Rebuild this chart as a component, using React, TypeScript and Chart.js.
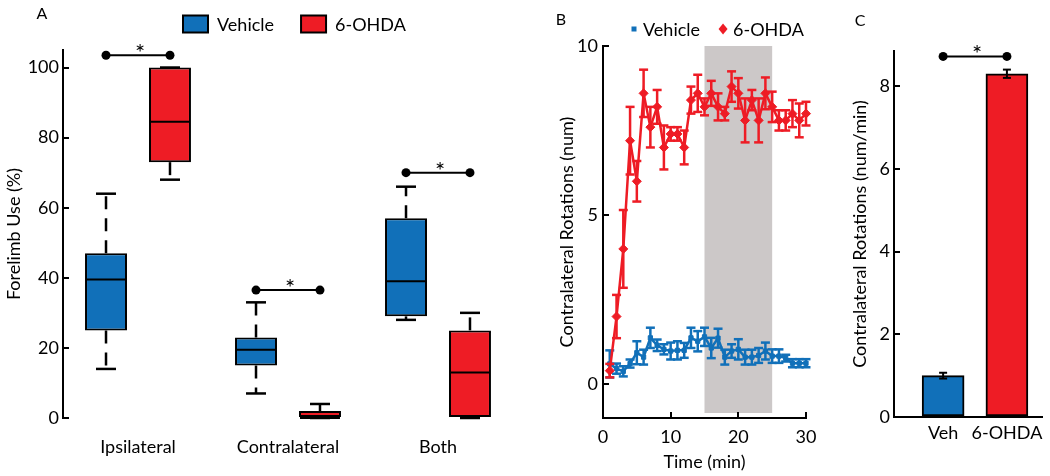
import React, { useEffect, useRef } from "react";
import { Chart, registerables } from "chart.js";

Chart.register(...registerables);

const FONT_FAMILY = "Lato, 'Noto Sans', sans-serif";
const BLUE = "#1170b9";
const RED = "#ee1c25";
const BLACK = "#000000";
const SHADE = "#ccc8c8";

// ---------- Panel A : forelimb use box plots ----------
const boxCategories = ["Ipsilateral", "Contralateral", "Both"];
const seriesNames = ["Vehicle", "6-OHDA"];
const vehicleMin = [14, 7, 28];
const vehicleQ1 = [25, 15, 29];
const vehicleMedian = [39.5, 19.5, 39];
const vehicleQ3 = [47, 23, 57];
const vehicleMax = [64, 33, 66];
const ohdaMin = [68, 0, 0];
const ohdaQ1 = [73, 0, 0];
const ohdaMedian = [84.5, 0, 13];
const ohdaQ3 = [100, 2, 25];
const ohdaMax = [100, 4, 30];
const sigLevelA = [103.5, 36.5, 70];
const yTicksA = [0, 20, 40, 60, 80, 100];

// ---------- Panel B : rotations over time ----------
const timeMin = [1, 2, 3, 4, 5, 6, 7, 8, 9, 10, 11, 12, 13, 14, 15, 16, 17, 18, 19, 20, 21, 22, 23, 24, 25, 26, 27, 28, 29, 30];
const vehicleRot = [0.6, 0.46, 0.38, 0.61, 0.93, 0.8, 1.37, 1.15, 1.03, 0.98, 1.0, 1.0, 1.37, 1.27, 1.4, 1.07, 1.36, 0.8, 0.98, 1.03, 0.8, 0.8, 0.85, 0.98, 0.83, 0.83, 0.77, 0.62, 0.62, 0.62];
const vehicleRotErr = [0.4, 0.15, 0.15, 0.12, 0.34, 0.22, 0.3, 0.17, 0.15, 0.25, 0.27, 0.22, 0.3, 0.3, 0.27, 0.3, 0.28, 0.22, 0.2, 0.3, 0.22, 0.22, 0.22, 0.25, 0.2, 0.2, 0.1, 0.12, 0.12, 0.12];
const ohdaRot = [0.4, 2.0, 4.0, 7.2, 6.0, 8.6, 7.6, 8.2, 7.0, 7.4, 7.4, 7.0, 8.4, 8.6, 8.2, 8.6, 8.2, 8.0, 8.8, 8.6, 7.8, 8.4, 7.8, 8.6, 8.2, 7.8, 7.8, 8.0, 7.8, 8.0];
const ohdaRotErr = [0.2, 0.64, 1.15, 1.0, 0.6, 0.7, 0.6, 0.5, 0.65, 0.2, 0.2, 0.5, 0.4, 0.55, 0.25, 0.37, 0.4, 0.2, 0.45, 0.45, 0.65, 0.3, 0.65, 0.47, 0.45, 0.3, 0.3, 0.4, 0.5, 0.35];
const shadeStart = 15;
const shadeEnd = 25;
const xTicksB = [0, 10, 20, 30];
const yTicksB = [0, 5, 10];

// ---------- Panel C : mean rotations ----------
const barLabels = ["Veh", "6-OHDA"];
const barPositions = [1, 2];
const barMeans = [1.0, 8.3];
const barErr = [0.07, 0.1];
const sigLevelC = 8.72;
const yTicksC = [0, 2, 4, 6, 8];

Chart.defaults.font.family = FONT_FAMILY;
Chart.defaults.font.size = 18;
Chart.defaults.color = BLACK;

const font18 = { family: FONT_FAMILY, size: 18 };

function line(ctx: CanvasRenderingContext2D, x1: number, y1: number, x2: number, y2: number) {
  ctx.beginPath();
  ctx.moveTo(x1, y1);
  ctx.lineTo(x2, y2);
  ctx.stroke();
}

function drawSigBar(ctx: CanvasRenderingContext2D, x1: number, x2: number, y: number) {
  ctx.save();
  ctx.strokeStyle = BLACK;
  ctx.fillStyle = BLACK;
  ctx.lineWidth = 2;
  ctx.setLineDash([]);
  line(ctx, x1, y, x2, y);
  for (const x of [x1, x2]) {
    ctx.beginPath();
    ctx.arc(x, y, 4.5, 0, Math.PI * 2);
    ctx.fill();
  }
  ctx.font = `24px ${FONT_FAMILY}`;
  ctx.textAlign = "center";
  ctx.textBaseline = "alphabetic";
  ctx.fillText("*", (x1 + x2) / 2 + 2, y + 6);
  ctx.restore();
}

function drawPanelLetter(ctx: CanvasRenderingContext2D, letter: string, x: number, y: number) {
  ctx.save();
  ctx.font = `16px ${FONT_FAMILY}`;
  ctx.fillStyle = BLACK;
  ctx.textAlign = "center";
  ctx.textBaseline = "middle";
  ctx.fillText(letter, x, y);
  ctx.restore();
}

const inwardGrid = {
  display: true,
  drawOnChartArea: false,
  drawTicks: true,
  tickLength: -6,
  color: BLACK,
  lineWidth: 2,
  tickColor: BLACK,
  tickWidth: 2,
};

function makeA(canvas: HTMLCanvasElement) {
  const boxStats = [
    { min: vehicleMin, q1: vehicleQ1, med: vehicleMedian, q3: vehicleQ3, max: vehicleMax },
    { min: ohdaMin, q1: ohdaQ1, med: ohdaMedian, q3: ohdaQ3, max: ohdaMax },
  ];
  const boxPlugin = {
    id: "boxWhiskers",
    afterDatasetsDraw(chart: any) {
      const ctx = chart.ctx as CanvasRenderingContext2D;
      const ys = chart.scales.y;
      const py = (v: number) => ys.getPixelForValue(v);
      boxStats.forEach((st, di) => {
        const meta = chart.getDatasetMeta(di);
        meta.data.forEach((el: any, j: number) => {
          const { x, width } = el.getProps(["x", "width"], true);
          const half = width / 2;
          ctx.save();
          ctx.strokeStyle = BLACK;
          ctx.lineWidth = 2;
          line(ctx, x - half + 1, py(st.med[j]), x + half - 1, py(st.med[j]));
          ctx.lineWidth = 2.5;
          ctx.setLineDash([13, 9]);
          if (st.max[j] > st.q3[j]) line(ctx, x, py(st.q3[j]), x, py(st.max[j]));
          if (st.min[j] < st.q1[j]) line(ctx, x, py(st.q1[j]), x, py(st.min[j]));
          ctx.setLineDash([]);
          line(ctx, x - 10, py(st.max[j]), x + 10, py(st.max[j]));
          line(ctx, x - 10, py(st.min[j]), x + 10, py(st.min[j]));
          ctx.restore();
        });
      });
    },
    afterDraw(chart: any) {
      const ctx = chart.ctx as CanvasRenderingContext2D;
      const ys = chart.scales.y;
      const m0 = chart.getDatasetMeta(0);
      const m1 = chart.getDatasetMeta(1);
      sigLevelA.forEach((lvl, j) => {
        drawSigBar(ctx, m0.data[j].x, m1.data[j].x, ys.getPixelForValue(lvl));
      });
      drawPanelLetter(ctx, "A", 42, 14);
      // legend
      ctx.save();
      ctx.font = `18px ${FONT_FAMILY}`;
      ctx.textBaseline = "middle";
      ctx.textAlign = "left";
      let lx = 183;
      const ly = 24;
      chart.data.datasets.forEach((ds: any) => {
        ctx.fillStyle = ds.backgroundColor;
        ctx.fillRect(lx, ly - 8.5, 25, 17);
        ctx.strokeStyle = BLACK;
        ctx.lineWidth = 2;
        ctx.strokeRect(lx, ly - 8.5, 25, 17);
        ctx.fillStyle = BLACK;
        ctx.fillText(ds.label, lx + 34, ly + 1);
        lx += 34 + ctx.measureText(ds.label).width + 27;
      });
      ctx.restore();
    },
  };

  return new Chart(canvas, {
    type: "bar",
    data: {
      labels: boxCategories,
      datasets: [
        {
          label: seriesNames[0],
          data: vehicleQ1.map((q, i) => [q, vehicleQ3[i]]),
          backgroundColor: BLUE,
          borderColor: BLACK,
          borderWidth: 2,
          borderSkipped: false,
          categoryPercentage: 0.853,
          barPercentage: 0.656,
        },
        {
          label: seriesNames[1],
          data: ohdaQ1.map((q, i) => [q, ohdaQ3[i]]),
          backgroundColor: RED,
          borderColor: BLACK,
          borderWidth: 2,
          borderSkipped: false,
          categoryPercentage: 0.853,
          barPercentage: 0.656,
        },
      ],
    } as any,
    options: {
      responsive: false,
      animation: false,
      layout: { padding: { left: 0, right: 17, top: 50, bottom: 0 } },
      plugins: { legend: { display: false }, tooltip: { enabled: false } },
      scales: {
        x: {
          grid: { display: false },
          border: { display: false },
          ticks: { font: font18, color: BLACK, padding: 10 },
          afterFit: (s: any) => {
            s.height = 58;
          },
        },
        y: {
          min: 0,
          max: 105,
          afterBuildTicks: (s: any) => {
            s.ticks = yTicksA.map((v) => ({ value: v }));
          },
          grid: inwardGrid,
          border: { display: true, color: BLACK, width: 2 },
          ticks: { font: font18, color: BLACK, padding: 10 },
          title: { display: true, text: "Forelimb Use (%)", font: font18, color: BLACK, padding: { top: 3, bottom: 0 } },
          afterFit: (s: any) => {
            s.width = 63;
          },
        },
      },
    } as any,
    plugins: [boxPlugin],
  });
}

function makeB(canvas: HTMLCanvasElement) {
  const errSets = [vehicleRotErr, ohdaRotErr];
  const valSets = [vehicleRot, ohdaRot];
  const bPlugin = {
    id: "panelB",
    beforeDraw(chart: any) {
      const ctx = chart.ctx as CanvasRenderingContext2D;
      const xs = chart.scales.x;
      const area = chart.chartArea;
      const x1 = xs.getPixelForValue(shadeStart);
      const x2 = xs.getPixelForValue(shadeEnd);
      ctx.save();
      ctx.fillStyle = SHADE;
      ctx.fillRect(x1, area.top, x2 - x1, area.bottom - area.top - 5);
      ctx.restore();
    },
    afterDatasetDraw(chart: any, args: any) {
      const ctx = chart.ctx as CanvasRenderingContext2D;
      const ys = chart.scales.y;
      const i = args.index;
      const ds = chart.data.datasets[i];
      const meta = args.meta;
      ctx.save();
      ctx.strokeStyle = ds.borderColor;
      ctx.lineWidth = 2.5;
      meta.data.forEach((pt: any, k: number) => {
        const v = valSets[i][k];
        const e = errSets[i][k];
        const yt = ys.getPixelForValue(v + e);
        const yb = ys.getPixelForValue(v - e);
        line(ctx, pt.x, yt, pt.x, yb);
        line(ctx, pt.x - 4.5, yt, pt.x + 4.5, yt);
        line(ctx, pt.x - 4.5, yb, pt.x + 4.5, yb);
      });
      ctx.restore();
    },
    afterDraw(chart: any) {
      const ctx = chart.ctx as CanvasRenderingContext2D;
      drawPanelLetter(ctx, "B", 31, 20);
      ctx.save();
      ctx.font = `18px ${FONT_FAMILY}`;
      ctx.textBaseline = "middle";
      ctx.textAlign = "left";
      const ly = 29;
      const dsV = chart.data.datasets[0];
      const dsO = chart.data.datasets[1];
      ctx.fillStyle = dsV.backgroundColor;
      ctx.fillRect(104 - 2.5, ly - 2.5, 5, 5);
      ctx.fillStyle = BLACK;
      ctx.fillText(dsV.label, 113, ly + 1);
      const dx = 113 + ctx.measureText(dsV.label).width + 23;
      ctx.fillStyle = dsO.backgroundColor;
      ctx.beginPath();
      ctx.moveTo(dx, ly - 5.5);
      ctx.lineTo(dx + 4.5, ly);
      ctx.lineTo(dx, ly + 5.5);
      ctx.lineTo(dx - 4.5, ly);
      ctx.closePath();
      ctx.fill();
      ctx.fillStyle = BLACK;
      ctx.fillText(dsO.label, dx + 10, ly + 1);
      ctx.restore();
    },
  };

  return new Chart(canvas, {
    type: "line",
    data: {
      datasets: [
        {
          label: seriesNames[0],
          data: timeMin.map((t, i) => ({ x: t, y: vehicleRot[i] })),
          borderColor: BLUE,
          backgroundColor: BLUE,
          borderWidth: 2.5,
          pointStyle: "rect",
          pointRadius: 3,
          pointBorderWidth: 1,
          tension: 0,
          order: 1,
          clip: false,
        },
        {
          label: seriesNames[1],
          data: timeMin.map((t, i) => ({ x: t, y: ohdaRot[i] })),
          borderColor: RED,
          backgroundColor: RED,
          borderWidth: 2.5,
          pointStyle: "rectRot",
          pointRadius: 4.5,
          pointBorderWidth: 1,
          tension: 0,
          order: 0,
          clip: false,
        },
      ],
    } as any,
    options: {
      responsive: false,
      animation: false,
      layout: { padding: { left: 23, right: 40, top: 46, bottom: 0 } },
      plugins: { legend: { display: false }, tooltip: { enabled: false } },
      scales: {
        x: {
          type: "linear",
          min: 0,
          max: 30,
          afterBuildTicks: (s: any) => {
            s.ticks = xTicksB.map((v) => ({ value: v }));
          },
          grid: inwardGrid,
          border: { display: true, color: BLACK, width: 2 },
          ticks: { font: font18, color: BLACK, padding: 14 },
          title: { display: true, text: "Time (min)", font: font18, color: BLACK, padding: { top: 0, bottom: 3 } },
          afterFit: (s: any) => {
            s.height = 58;
          },
        },
        y: {
          min: -1,
          max: 10,
          afterBuildTicks: (s: any) => {
            s.ticks = yTicksB.map((v) => ({ value: v }));
          },
          grid: inwardGrid,
          border: { display: true, color: BLACK, width: 2 },
          ticks: { font: font18, color: BLACK, padding: 11 },
          title: { display: true, text: "Contralateral Rotations (num)", font: font18, color: BLACK, padding: { top: 3, bottom: 0 } },
          afterFit: (s: any) => {
            s.width = 50;
          },
        },
      },
    } as any,
    plugins: [bPlugin],
  });
}

function makeC(canvas: HTMLCanvasElement) {
  const cPlugin = {
    id: "panelC",
    afterDatasetsDraw(chart: any) {
      const ctx = chart.ctx as CanvasRenderingContext2D;
      const ys = chart.scales.y;
      const meta = chart.getDatasetMeta(0);
      ctx.save();
      ctx.strokeStyle = BLACK;
      ctx.lineWidth = 2;
      meta.data.forEach((el: any, k: number) => {
        const yt = ys.getPixelForValue(barMeans[k] + barErr[k]);
        const yb = ys.getPixelForValue(barMeans[k] - barErr[k]);
        line(ctx, el.x, yt, el.x, yb);
        line(ctx, el.x - 4, yt, el.x + 4, yt);
        line(ctx, el.x - 4, yb, el.x + 4, yb);
      });
      ctx.restore();
    },
    afterDraw(chart: any) {
      const ctx = chart.ctx as CanvasRenderingContext2D;
      const ys = chart.scales.y;
      const meta = chart.getDatasetMeta(0);
      drawSigBar(ctx, meta.data[0].x, meta.data[1].x, ys.getPixelForValue(sigLevelC));
      drawPanelLetter(ctx, "C", 14, 21);
    },
  };

  return new Chart(canvas, {
    type: "bar",
    data: {
      datasets: [
        {
          label: "Contralateral Rotations",
          data: barPositions.map((p, i) => ({ x: p, y: barMeans[i] })),
          backgroundColor: [BLUE, RED],
          borderColor: BLACK,
          borderWidth: 2,
          borderSkipped: false,
          barThickness: 42,
        },
      ],
    } as any,
    options: {
      responsive: false,
      animation: false,
      layout: { padding: { left: 0, right: 8, top: 51, bottom: 0 } },
      plugins: { legend: { display: false }, tooltip: { enabled: false } },
      scales: {
        x: {
          type: "linear",
          offset: false,
          min: 0.23,
          max: 2.55,
          afterBuildTicks: (s: any) => {
            s.ticks = barPositions.map((v) => ({ value: v }));
          },
          grid: { display: false },
          border: { display: true, color: BLACK, width: 2 },
          ticks: {
            font: font18,
            color: BLACK,
            padding: -3,
            maxRotation: 0,
            minRotation: 0,
            autoSkip: false,
            callback: (_v: any, idx: number) => barLabels[idx],
          },
          afterFit: (s: any) => {
            s.height = 59;
          },
        },
        y: {
          min: 0,
          max: 8.85,
          afterBuildTicks: (s: any) => {
            s.ticks = yTicksC.map((v) => ({ value: v }));
          },
          grid: inwardGrid,
          border: { display: true, color: BLACK, width: 2 },
          ticks: { font: font18, color: BLACK, padding: 10 },
          title: { display: true, text: "Contralateral Rotations (num/min)", font: font18, color: BLACK, padding: { top: 3, bottom: 0 } },
          afterFit: (s: any) => {
            s.width = 48;
          },
        },
      },
    } as any,
    plugins: [cPlugin],
  });
}

export default function App() {
  const refA = useRef<HTMLCanvasElement>(null);
  const refB = useRef<HTMLCanvasElement>(null);
  const refC = useRef<HTMLCanvasElement>(null);

  useEffect(() => {
    const charts: Chart[] = [];
    if (refA.current) charts.push(makeA(refA.current));
    if (refB.current) charts.push(makeB(refB.current));
    if (refC.current) charts.push(makeC(refC.current));
    return () => {
      charts.forEach((c) => c.destroy());
    };
  }, []);

  return (
    <div
      style={{
        position: "absolute",
        left: 0,
        top: 0,
        width: 1050,
        height: 476,
        background: "#ffffff",
        overflow: "hidden",
      }}
    >
      <canvas ref={refA} width={530} height={476} style={{ position: "absolute", left: 0, top: 0, width: 530, height: 476 }} />
      <canvas ref={refB} width={316} height={476} style={{ position: "absolute", left: 530, top: 0, width: 316, height: 476 }} />
      <canvas ref={refC} width={204} height={476} style={{ position: "absolute", left: 846, top: 0, width: 204, height: 476 }} />
    </div>
  );
}
